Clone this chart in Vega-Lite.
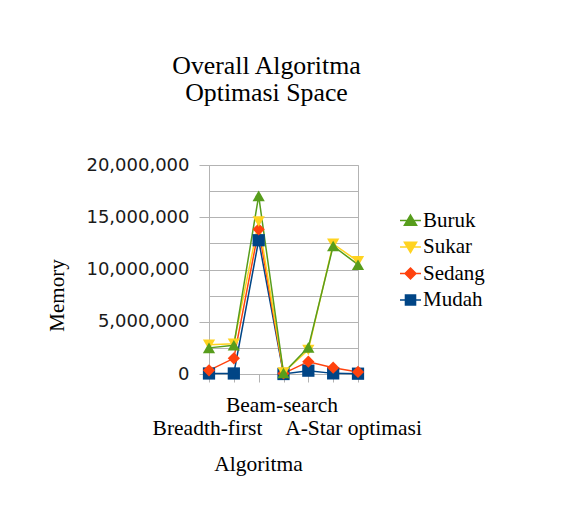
{
  "$schema": "https://vega.github.io/schema/vega-lite/v6.json",
  "width": 149,
  "height": 209,
  "autosize": "none",
  "padding": {"left": 209, "top": 165, "right": 210, "bottom": 138},
  "background": "white",
  "title": {
    "text": ["Overall Algoritma", "Optimasi Space"],
    "font": "Liberation Serif",
    "fontSize": 25.8,
    "fontWeight": "normal",
    "color": "black",
    "anchor": "middle",
    "frame": "group",
    "dx": -17,
    "offset": 49,
    "lineHeight": 27
  },
  "data": {
    "values": [
      {"algoritma": "Breadth-first", "series": "Mudah", "memory": 50000},
      {"algoritma": "Depth-first", "series": "Mudah", "memory": 50000},
      {"algoritma": "Best-first", "series": "Mudah", "memory": 12800000},
      {"algoritma": "Beam-search", "series": "Mudah", "memory": 0},
      {"algoritma": "Hill-climbing", "series": "Mudah", "memory": 320000},
      {"algoritma": "A-Star", "series": "Mudah", "memory": 60000},
      {"algoritma": "A-Star optimasi", "series": "Mudah", "memory": 30000},
      {"algoritma": "Breadth-first", "series": "Sedang", "memory": 350000},
      {"algoritma": "Depth-first", "series": "Sedang", "memory": 1500000},
      {"algoritma": "Best-first", "series": "Sedang", "memory": 13850000},
      {"algoritma": "Beam-search", "series": "Sedang", "memory": 50000},
      {"algoritma": "Hill-climbing", "series": "Sedang", "memory": 1180000},
      {"algoritma": "A-Star", "series": "Sedang", "memory": 600000},
      {"algoritma": "A-Star optimasi", "series": "Sedang", "memory": 200000},
      {"algoritma": "Breadth-first", "series": "Sukar", "memory": 2800000},
      {"algoritma": "Depth-first", "series": "Sukar", "memory": 2900000},
      {"algoritma": "Best-first", "series": "Sukar", "memory": 14600000},
      {"algoritma": "Beam-search", "series": "Sukar", "memory": 150000},
      {"algoritma": "Hill-climbing", "series": "Sukar", "memory": 2300000},
      {"algoritma": "A-Star", "series": "Sukar", "memory": 12450000},
      {"algoritma": "A-Star optimasi", "series": "Sukar", "memory": 10780000},
      {"algoritma": "Breadth-first", "series": "Buruk", "memory": 2500000},
      {"algoritma": "Depth-first", "series": "Buruk", "memory": 2750000},
      {"algoritma": "Best-first", "series": "Buruk", "memory": 17050000},
      {"algoritma": "Beam-search", "series": "Buruk", "memory": 100000},
      {"algoritma": "Hill-climbing", "series": "Buruk", "memory": 2550000},
      {"algoritma": "A-Star", "series": "Buruk", "memory": 12250000},
      {"algoritma": "A-Star optimasi", "series": "Buruk", "memory": 10460000}
    ]
  },
  "encoding": {
    "x": {
      "field": "algoritma",
      "type": "ordinal",
      "sort": null,
      "scale": {"type": "point", "padding": 0},
      "axis": {
        "title": "Algoritma",
        "titleFont": "Liberation Serif",
        "titleFontSize": 21.5,
        "titleFontWeight": "normal",
        "titleColor": "black",
        "titleX": 49,
        "titleAlign": "center",
        "titlePadding": 14,
        "labelExpr": "datum.value == 'Breadth-first' ? ['', 'Breadth-first'] : datum.value == 'Beam-search' ? 'Beam-search' : datum.value == 'A-Star optimasi' ? ['', 'A-Star optimasi'] : ''",
        "labelAngle": 0,
        "labelFont": "Liberation Serif",
        "labelFontSize": 21.5,
        "labelColor": "black",
        "labelLineHeight": 23.5,
        "labelOverlap": false,
        "labelBound": false,
        "labelFlush": false,
        "labelBaseline": "top",
        "labelPadding": 12,
        "labelOffset": {"condition": {"test": "datum.value == 'A-Star optimasi'", "value": -5}, "value": -2},
        "tickSize": 8,
        "tickColor": "#b3b3b3",
        "domainColor": "#b3b3b3",
        "grid": false
      }
    },
    "y": {
      "field": "memory",
      "type": "quantitative",
      "scale": {"domain": [0, 20000000], "nice": false},
      "axis": {
        "title": "Memory",
        "titleFont": "Liberation Serif",
        "titleFontSize": 21,
        "titleFontWeight": "normal",
        "titleColor": "black",
        "titleY": 130,
        "titleAlign": "center",
        "titlePadding": 18,
        "values": [0, 2500000, 5000000, 7500000, 10000000, 12500000, 15000000, 17500000, 20000000],
        "labelExpr": "datum.value % 5000000 == 0 ? format(datum.value, ',') : ''",
        "labelFont": "DejaVu Sans",
        "labelFontSize": 18,
        "labelColor": "#1a1a1a",
        "labelPadding": 10,
        "tickSize": 10,
        "tickColor": "#b3b3b3",
        "tickOpacity": {"condition": {"test": "datum.value % 5000000 != 0", "value": 0}, "value": 1},
        "domainColor": "#b3b3b3",
        "grid": true,
        "gridColor": "#b3b3b3",
        "gridOpacity": 1
      }
    },
    "color": {
      "field": "series",
      "type": "nominal",
      "scale": {
        "domain": ["Buruk", "Sukar", "Sedang", "Mudah"],
        "range": ["#579d1c", "#ffd320", "#ff420e", "#004586"]
      },
      "legend": {
        "orient": "none",
        "legendX": 190,
        "legendY": 44,
        "title": null,
        "labelFont": "Liberation Serif",
        "labelFontSize": 21,
        "labelColor": "black",
        "symbolSize": 441,
        "symbolStrokeWidth": 1.5,
        "symbolOpacity": 1,
        "rowPadding": 4.5,
        "labelOffset": 1,
        "padding": 0,
        "encode": {
          "symbols": {
            "update": {
              "shape": {"signal": "datum.value == 'Buruk' ? 'M-1,0H1M0,-0.52L0.58,0.45L-0.58,0.45Z' : datum.value == 'Sukar' ? 'M-1,0H1M-0.58,-0.45L0.58,-0.45L0,0.52Z' : datum.value == 'Sedang' ? 'M-1,0H1M0,-0.52L0.52,0L0,0.52L-0.52,0Z' : 'M-1,0H1M-0.48,-0.48H0.48V0.48H-0.48Z'"}
            }
          }
        }
      }
    }
  },
  "layer": [
    {"mark": {"type": "line", "strokeWidth": 1.5}},
    {
      "transform": [{"filter": "datum.series == 'Mudah'"}],
      "mark": {"type": "point", "filled": true, "size": 150, "opacity": 1, "shape": "square"}
    },
    {
      "transform": [{"filter": "datum.series == 'Sedang'"}],
      "mark": {"type": "point", "filled": true, "size": 150, "opacity": 1, "shape": "diamond"}
    },
    {
      "transform": [{"filter": "datum.series == 'Sukar'"}],
      "mark": {"type": "point", "filled": true, "size": 150, "opacity": 1, "shape": "triangle-down"}
    },
    {
      "transform": [{"filter": "datum.series == 'Buruk'"}],
      "mark": {"type": "point", "filled": true, "size": 150, "opacity": 1, "shape": "triangle-up"}
    }
  ],
  "config": {
    "view": {"stroke": "#b3b3b3"}
  }
}
